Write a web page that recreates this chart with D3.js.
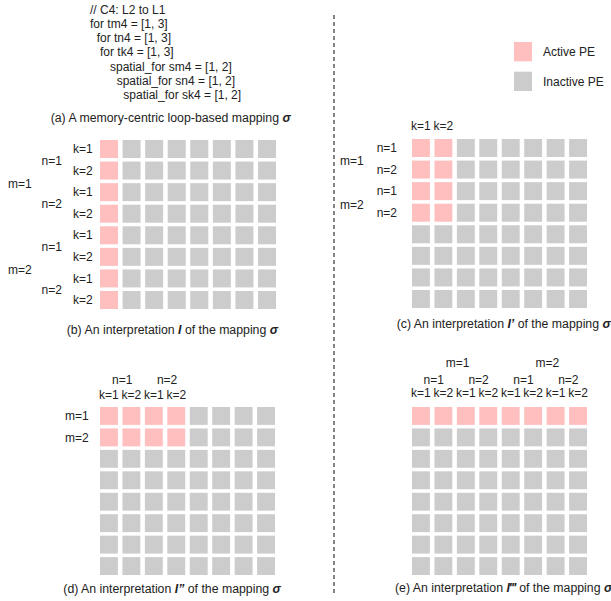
<!DOCTYPE html>
<html>
<head>
<meta charset="utf-8">
<script src="https://cdn.jsdelivr.net/npm/d3@7"></script>
<style>
  html, body { margin: 0; padding: 0; background: #fff; }
  svg { display: block; }
  text { font-family: Helvetica, Arial, "Liberation Sans", sans-serif; fill: #222; font-size: 12px; }
  text.caption { font-size: 12.3px; }
</style>
</head>
<body>
<script>
// ---------- data ----------
const codeLines = [
  "// C4: L2 to L1",
  "for tm4 = [1, 3]",
  "  for tn4 = [1, 3]",
  "   for tk4 = [1, 3]",
  "      spatial_for sm4 = [1, 2]",
  "        spatial_for sn4 = [1, 2]",
  "          spatial_for sk4 = [1, 2]"
];
const legendLabels = ["Active PE", "Inactive PE"];
const gridRows = [0, 1, 2, 3, 4, 5, 6, 7];
const gridCols = [0, 1, 2, 3, 4, 5, 6, 7];

// active region (rows x cols) per interpretation
const activeRowsB = 8, activeColsB = 1;
const activeRowsC = 4, activeColsC = 2;
const activeRowsD = 2, activeColsD = 4;
const activeRowsE = 1, activeColsE = 8;

// labels
const bRowK = ["k=1", "k=2", "k=1", "k=2", "k=1", "k=2", "k=1", "k=2"];
const bRowN = ["n=1", "n=2", "n=1", "n=2"];
const bRowM = ["m=1", "m=2"];
const cColK = ["k=1", "k=2"];
const cRowN = ["n=1", "n=2", "n=1", "n=2"];
const cRowM = ["m=1", "m=2"];
const dColK = ["k=1", "k=2", "k=1", "k=2"];
const dColN = ["n=1", "n=2"];
const dRowM = ["m=1", "m=2"];
const eColK = ["k=1", "k=2", "k=1", "k=2", "k=1", "k=2", "k=1", "k=2"];
const eColN = ["n=1", "n=2", "n=1", "n=2"];
const eColM = ["m=1", "m=2"];

const captionA = [["(a) A memory-centric loop-based mapping ", false], ["σ", true]];
const captionB = [["(b) An interpretation ", false], ["I", true], [" of the mapping ", false], ["σ", true]];
const captionC = [["(c) An interpretation ", false], ["I’", true], [" of the mapping ", false], ["σ", true]];
const captionD = [["(d) An interpretation ", false], ["I”", true], [" of the mapping ", false], ["σ", true]];
const captionE = [["(e) An interpretation ", false], ["I‴", true], [" of the mapping ", false], ["σ", true]];

// ---------- drawing ----------
const W = 611, H = 601;
const ACTIVE = "#ffbfbf", INACTIVE = "#cccccc";
const svg = d3.select("body").append("svg").attr("width", W).attr("height", H);
svg.append("rect").attr("width", W).attr("height", H).attr("fill", "#fff");

// code block
svg.append("g").selectAll("text").data(codeLines).join("text")
  .attr("x", 90).attr("y", (d, i) => 13.5 + i * 14.25)
  .style("white-space", "pre").attr("xml:space", "preserve")
  .text(d => d);

// dashed separator
svg.append("line").attr("x1", 334).attr("x2", 334).attr("y1", 15).attr("y2", 595)
  .attr("stroke", "#333").attr("stroke-width", 1.2).attr("stroke-dasharray", "4,3");

// legend
const legY = d3.scaleBand().domain(legendLabels).range([42, 91]).paddingInner(0.35);
const leg = svg.append("g");
leg.selectAll("rect").data(legendLabels).join("rect")
  .attr("x", 514).attr("y", d => legY(d)).attr("width", 18).attr("height", legY.bandwidth())
  .attr("fill", (d, i) => i === 0 ? ACTIVE : INACTIVE);
leg.selectAll("text").data(legendLabels).join("text")
  .attr("x", 543).attr("y", d => legY(d) + legY.bandwidth() / 2).attr("dy", "0.35em")
  .text(d => d);

function caption(parts, x, y) {
  const t = svg.append("text").attr("class", "caption").attr("x", x).attr("y", y);
  parts.forEach(([s, b]) => {
    const ts = t.append("tspan").text(s);
    if (b) ts.attr("font-weight", "bold").attr("font-style", "italic");
  });
}

function grid(xr, yr, aRows, aCols) {
  const x = d3.scaleBand().domain(gridCols).range(xr).paddingInner(0.2025).paddingOuter(0);
  const y = d3.scaleBand().domain(gridRows).range(yr).paddingInner(0.1656).paddingOuter(0);
  const cells = [];
  gridRows.forEach(r => gridCols.forEach(c => cells.push({ r, c, on: r < aRows && c < aCols })));
  svg.append("g").selectAll("rect").data(cells).join("rect")
    .attr("x", d => x(d.c)).attr("y", d => y(d.r))
    .attr("width", x.bandwidth()).attr("height", y.bandwidth())
    .attr("fill", d => d.on ? ACTIVE : INACTIVE);
  return { x, y };
}

// group-centre helpers
function rowCenter(y, span, i) {
  const a = y(i * span), b = y(i * span + span - 1) + y.bandwidth();
  return (a + b) / 2;
}
function colCenter(x, span, i) {
  const a = x(i * span), b = x(i * span + span - 1) + x.bandwidth();
  return (a + b) / 2;
}
function rowLabels(y, labels, span, xPos, dy) {
  svg.append("g").selectAll("text").data(labels).join("text")
    .attr("x", xPos).attr("y", (d, i) => rowCenter(y, span, i) + (dy || 0)).attr("dy", "0.35em")
    .text(d => d);
}
function colLabels(x, labels, span, yPos, dx) {
  svg.append("g").selectAll("text").data(labels).join("text")
    .attr("x", (d, i) => colCenter(x, span, i) + (dx || 0)).attr("y", yPos).attr("dy", "0.35em")
    .attr("text-anchor", "middle")
    .text(d => d);
}

// (a)
caption(captionA, 50.7, 122);

// (b)
const gB = grid([100, 276], [140, 309], activeRowsB, activeColsB);
rowLabels(gB.y, bRowK, 1, 73);
rowLabels(gB.y, bRowN, 2, 41.5, 1);
rowLabels(gB.y, bRowM, 4, 8, 2);
caption(captionB, 66.7, 334);

// (c)
const gC = grid([412, 587], [139, 308], activeRowsC, activeColsC);
colLabels(gC.x, cColK, 1, 125.7);
rowLabels(gC.y, cRowN, 1, 376.7);
rowLabels(gC.y, cRowM, 2, 340, 2.5);
caption(captionC, 396.7, 327.5);

// (d)
const gD = grid([100, 275], [407, 575], activeRowsD, activeColsD);
colLabels(gD.x, dColK, 1, 394.3);
colLabels(gD.x, dColN, 2, 379.3, 2);
rowLabels(gD.y, dRowM, 1, 65);
caption(captionD, 63.3, 593);

// (e)
const gE = grid([412, 587], [407, 575], activeRowsE, activeColsE);
colLabels(gE.x, eColK, 1, 392.7);
colLabels(gE.x, eColN, 2, 380, 1.5);
colLabels(gE.x, eColM, 4, 362.7, 3);
caption(captionE, 395, 591.5);
</script>
</body>
</html>
